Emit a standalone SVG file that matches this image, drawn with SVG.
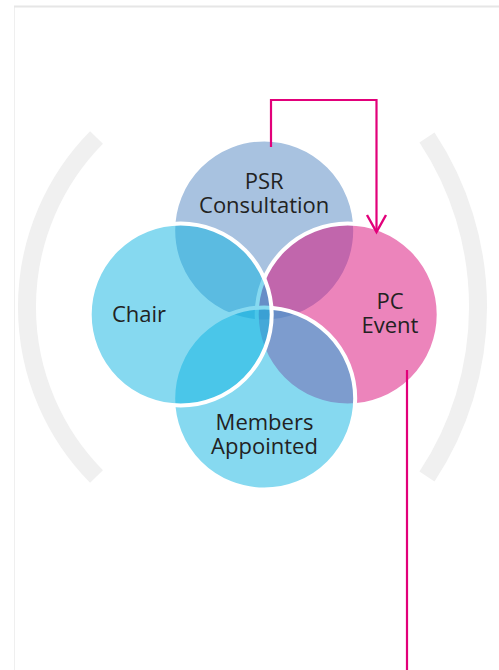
<svg xmlns="http://www.w3.org/2000/svg" width="499" height="670" viewBox="0 0 499 670">
  <style>
    .lbl { font-family: "Open Sans", "Noto Sans", "Liberation Sans", sans-serif; font-size: 22px; fill: #222222; text-anchor: middle; }
    .ring { fill-opacity: 0.5; stroke: #ffffff; stroke-width: 4; }
    .bracket { fill: none; stroke: #f0f0f0; stroke-width: 18; stroke-linecap: butt; }
    .conn { fill: none; stroke: #e2007a; stroke-width: 2.2; }
  </style>
  <defs>
    <marker id="chev" viewBox="-20 -12 24 24" refX="0" refY="0" markerWidth="24" markerHeight="24" markerUnits="userSpaceOnUse" orient="auto">
      <path d="M-17,-9.5 L0,0 L-17,9.5" fill="none" stroke="#e2007a" stroke-width="2.4"/>
    </marker>
  </defs>
  <rect x="0" y="0" width="499" height="670" fill="#ffffff"/>
  <g id="frame">
    <line x1="14.5" y1="7" x2="14.5" y2="670" stroke="#efefef" stroke-width="1"/>
    <line x1="14" y1="6.5" x2="499" y2="6.5" stroke="#e6e6e6" stroke-width="2"/>
  </g>
  <g id="brackets">
    <path class="bracket" d="M96.5,137.5 A241.4,241.4 0 0 0 96.5,476.5"/>
    <path class="bracket" d="M427,137.5 A307,307 0 0 1 427,476.5"/>
  </g>
  <g id="node-psr">
    <circle class="ring" cx="264.2" cy="230.5" r="91" fill="#5185c1"/>
    <text class="lbl" x="264.2" y="189"><tspan x="264.2">PSR</tspan><tspan x="264.2" dy="24">Consultation</tspan></text>
  </g>
  <g id="node-pc">
    <circle class="ring" cx="347.7" cy="314.5" r="91" fill="#d90977"/>
    <text class="lbl" x="390" y="309"><tspan x="390">PC</tspan><tspan x="390" dy="24">Event</tspan></text>
  </g>
  <g id="node-members">
    <circle class="ring" cx="264.2" cy="398.5" r="91" fill="#0db3e1"/>
    <text class="lbl" x="264.5" y="430"><tspan x="264.5">Members</tspan><tspan x="264.5" dy="24">Appointed</tspan></text>
  </g>
  <g id="node-chair">
    <circle class="ring" cx="180.7" cy="314.5" r="91" fill="#0db3e1"/>
    <text class="lbl" x="139" y="322">Chair</text>
  </g>
  <g id="connectors">
    <path class="conn" d="M271,147 V100 H376.5 V232" marker-end="url(#chev)"/>
    <path class="conn" d="M407,370 V670"/>
  </g>
</svg>
